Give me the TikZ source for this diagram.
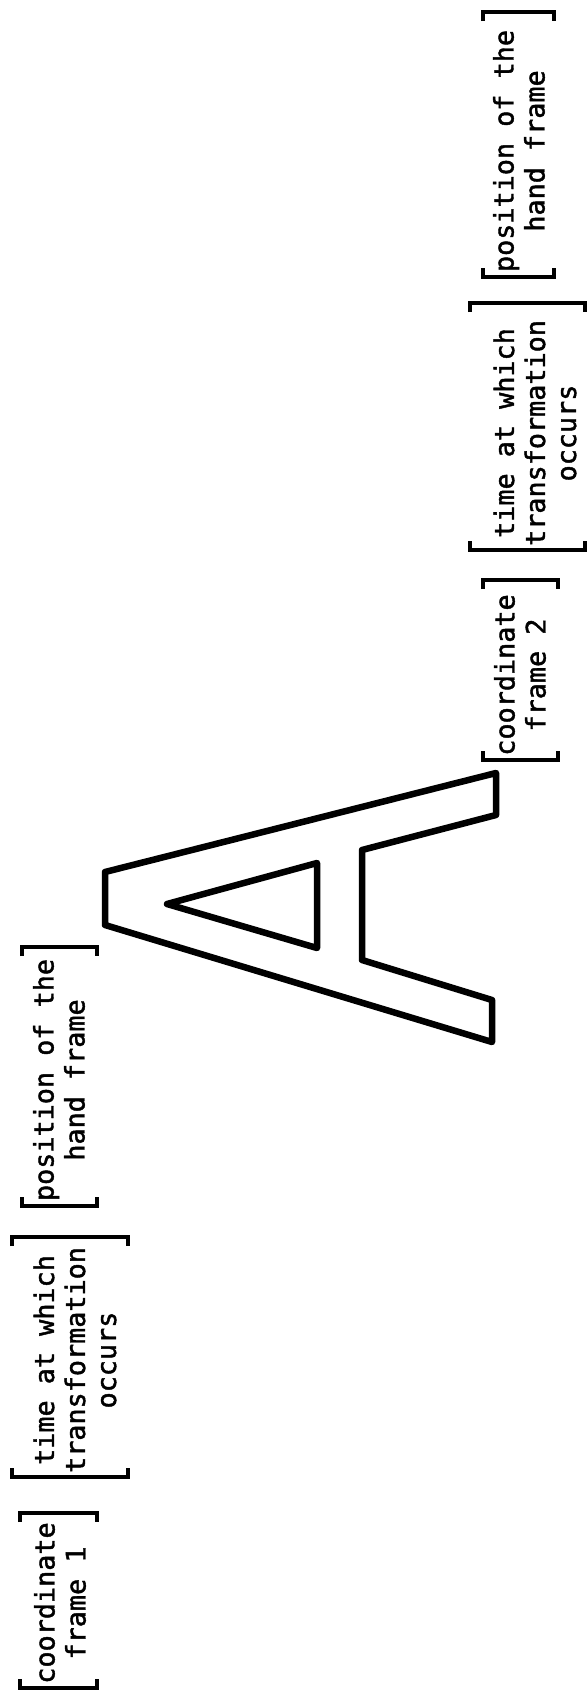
\documentclass[tikz,border=0pt]{standalone}
\usepackage{fontspec}
\setmonofont[FakeBold=1.6]{DejaVu Sans Mono}
\begin{document}
\begin{tikzpicture}[x=1pt,y=-1pt,
  lbl/.style={rotate=90,align=center,inner sep=0pt,font=\ttfamily\fontsize{26.8}{31}\selectfont},
  brk/.style={line width=3.4pt,line cap=butt,line join=miter},
  letter/.style={line width=6.5pt,line join=round}]
\useasboundingbox[fill=white] (0,0) rectangle (588,1697);

% ---- right-hand (upper) group ----
\node[lbl] (p2) at (519,151) {position of the\\hand frame};
\draw[brk] (483,268) -- (483,277) -- (554,277) -- (554,268);
\draw[brk] (483,21) -- (483,12) -- (554,12) -- (554,21);

\node[lbl] (t2) at (535,433) {time at which\\transformation\\occurs};
\draw[brk] (470,541) -- (470,550) -- (585,550) -- (585,541);
\draw[brk] (470,312) -- (470,303) -- (585,303) -- (585,312);

\node[lbl] (c2) at (520,675) {coordinate\\frame 2};
\draw[brk] (483,751) -- (483,760) -- (558,760) -- (558,751);
\draw[brk] (483,589) -- (483,580) -- (558,580) -- (558,589);

% ---- the letter A ----
\draw[letter] (105,872) -- (496,773) -- (496,815) -- (362,850) -- (362,960)
  -- (492,1000) -- (492,1042) -- (105,925) -- cycle;
\draw[letter] (167,904) -- (317,863) -- (317,948) -- cycle;

% ---- left-hand (lower) group ----
\node[lbl] (p1) at (59,1080) {position of the\\hand frame};
\draw[brk] (22,1197) -- (22,1206) -- (97,1206) -- (97,1197);
\draw[brk] (22,956) -- (22,947) -- (97,947) -- (97,956);

\node[lbl] (t1) at (75,1360) {time at which\\transformation\\occurs};
\draw[brk] (12,1468) -- (12,1477) -- (128,1477) -- (128,1468);
\draw[brk] (12,1246) -- (12,1237) -- (128,1237) -- (128,1246);

\node[lbl] (c1) at (60,1603) {coordinate\\frame 1};
\draw[brk] (20,1679) -- (20,1688) -- (97,1688) -- (97,1679);
\draw[brk] (20,1522) -- (20,1513) -- (97,1513) -- (97,1522);
\end{tikzpicture}
\end{document}
